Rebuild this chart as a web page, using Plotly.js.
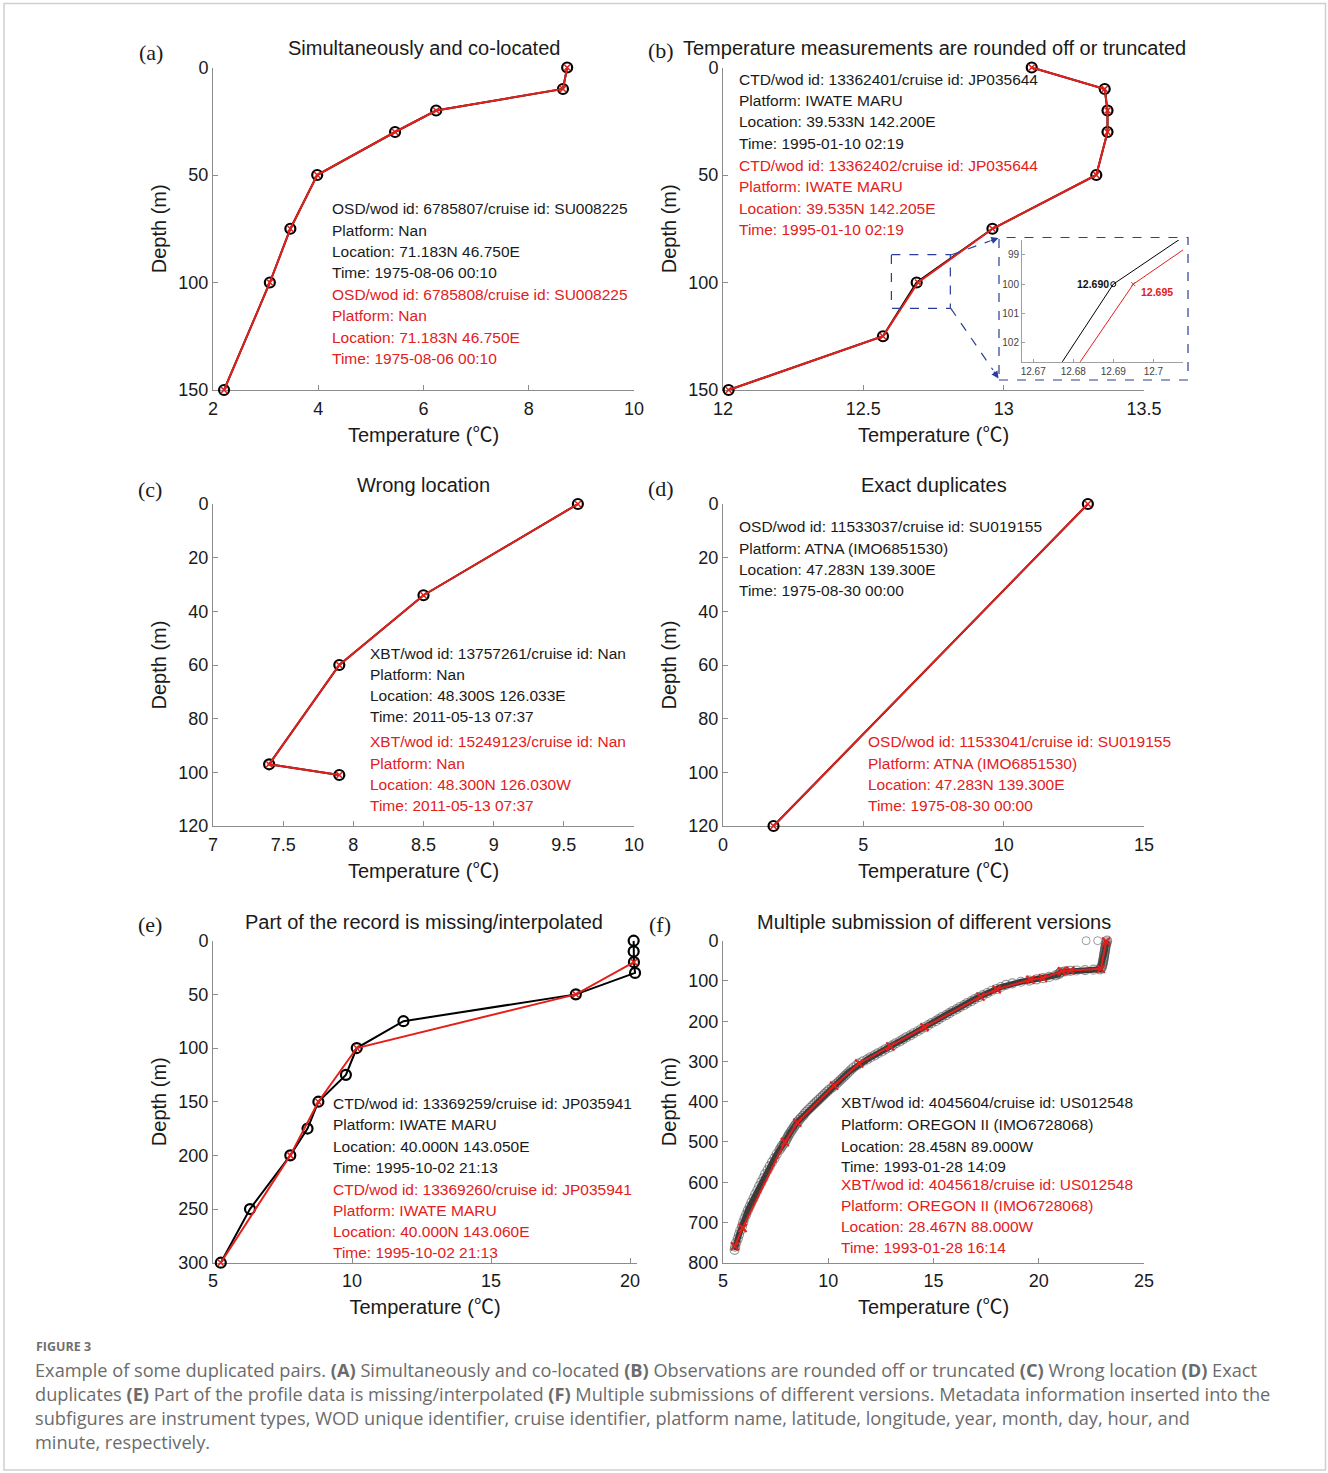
<!DOCTYPE html>
<html><head><meta charset="utf-8">
<script src="https://cdn.plot.ly/plotly-3.0.1.min.js"></script>
<style>html,body{margin:0;padding:0;background:#fff}</style>
</head><body><div id="chart" style="width:1328px;height:1473px"></div>
<script>
// ---------------- DATA ----------------
// (a) Simultaneously and co-located
const depthA = [0, 10, 20, 30, 50, 75, 100, 150];
const tempA_black = [8.73, 8.65, 6.24, 5.46, 3.98, 3.47, 3.08, 2.21];
const tempA_red   = [8.73, 8.65, 6.24, 5.46, 3.98, 3.47, 3.08, 2.21];
// (b) Rounded off or truncated
const depthB = [0, 10, 20, 30, 50, 75, 100, 125, 150];
const tempB_black = [13.10, 13.36, 13.37, 13.37, 13.33, 12.96, 12.690, 12.57, 12.02];
const tempB_red   = [13.10, 13.36, 13.37, 13.37, 13.33, 12.96, 12.695, 12.57, 12.02];
// (c) Wrong location
const depthC = [0, 34, 60, 97, 101];
const tempC_black = [9.60, 8.50, 7.90, 7.40, 7.90];
const tempC_red   = [9.60, 8.50, 7.90, 7.40, 7.90];
// (d) Exact duplicates
const depthD = [0, 120];
const tempD_black = [13.0, 1.8];
const tempD_red   = [13.0, 1.8];
// (e) Missing / interpolated
const depthE_black = [0, 10, 20, 30, 50, 75, 100, 125, 150, 175, 200, 250, 300];
const tempE_black  = [20.13, 20.13, 20.14, 20.18, 18.05, 11.85, 10.17, 9.78, 8.79, 8.40, 7.78, 6.33, 5.28];
const depthE_red = [20, 50, 100, 150, 200, 300];
const tempE_red  = [20.14, 18.05, 10.17, 8.79, 7.78, 5.28];
// (f) Multiple submissions
const depthF_blackSurface = [0, 0];
const tempF_blackSurface  = [22.25, 22.8];
const depthF_black = [
 0,4,8,12,16,20,24,28,32,36,40,44,48,52,56,60,64,68,71,
 72,73,74,75,76,78,80,83,86,90,93,96,99,102,106,110,115,120,
 125,130,135,140,145,150,155,160,165,170,175,180,185,190,195,200,205,210,215,220,225,230,235,240,245,250,
 255,260,265,270,275,280,285,290,295,300,305,310,315,320,325,330,335,340,345,350,355,360,365,370,375,380,
 385,390,395,400,405,410,415,420,425,430,435,440,445,450,455,460,465,470,475,480,485,490,495,500,
 505,510,515,520,
 530,540,550,560,570,580,590,600,610,620,630,640,650,660,670,680,690,700,710,720,730,740,750,760,768];
const tempF_black = [
 23.25,23.22,23.2,23.18,23.17,23.15,23.15,23.13,23.12,23.1,23.1,23.08,23.07,23.05,23.04,23.02,23.0,22.98,22.92,
 22.6,22.2,21.8,21.5,21.25,21.05,21.0,20.95,20.8,20.5,20.2,19.9,19.55,19.15,18.75,18.45,18.2,18.0,
 17.75,17.55,17.35,17.15,16.95,16.8,16.6,16.45,16.25,16.1,15.9,15.75,15.6,15.4,15.25,15.1,14.9,14.75,14.57,14.4,14.25,14.05,13.9,13.7,13.55,13.4,
 13.2,13.05,12.9,12.7,12.55,12.35,12.2,12.0,11.85,11.65,11.47,11.35,11.2,11.1,11.0,10.9,10.8,10.7,10.6,10.5,10.4,10.28,10.18,10.05,9.95,9.85,
 9.75,9.65,9.55,9.45,9.35,9.25,9.15,9.05,8.95,8.87,8.8,8.7,8.62,8.55,8.48,8.4,8.35,8.28,8.22,8.15,8.1,8.05,8.0,7.94,
 7.88,7.8,7.74,7.68,
 7.55,7.45,7.33,7.22,7.12,7.0,6.92,6.82,6.72,6.63,6.53,6.45,6.35,6.27,6.18,6.1,6.02,5.96,5.9,5.82,5.76,5.7,5.63,5.58,5.55];
const depthF_red = [2, 70, 74, 76, 93, 97, 121, 139, 215, 263, 305, 360, 452, 500, 714, 759];
const tempF_red  = [23.2, 22.95, 21.5, 21.1, 20.2, 19.6, 18.0, 17.23, 14.57, 12.95, 11.47, 10.28, 8.53, 7.94, 5.93, 5.56];

// Titles and metadata text
const panelTitles = ['Simultaneously and co-located', 'Temperature measurements are rounded off or truncated',
  'Wrong location', 'Exact duplicates', 'Part of the record is missing/interpolated', 'Multiple submission of different versions'];
const panelLetters = ['(a)', '(b)', '(c)', '(d)', '(e)', '(f)'];
const metaA_black = ['OSD/wod id: 6785807/cruise id: SU008225', 'Platform: Nan', 'Location: 71.183N 46.750E', 'Time: 1975-08-06 00:10'];
const metaA_red   = ['OSD/wod id: 6785808/cruise id: SU008225', 'Platform: Nan', 'Location: 71.183N 46.750E', 'Time: 1975-08-06 00:10'];
const metaB_black = ['CTD/wod id: 13362401/cruise id: JP035644', 'Platform: IWATE MARU', 'Location: 39.533N 142.200E', 'Time: 1995-01-10 02:19'];
const metaB_red   = ['CTD/wod id: 13362402/cruise id: JP035644', 'Platform: IWATE MARU', 'Location: 39.535N 142.205E', 'Time: 1995-01-10 02:19'];
const metaC_black = ['XBT/wod id: 13757261/cruise id: Nan', 'Platform: Nan', 'Location: 48.300S 126.033E', 'Time: 2011-05-13 07:37'];
const metaC_red   = ['XBT/wod id: 15249123/cruise id: Nan', 'Platform: Nan', 'Location: 48.300N 126.030W', 'Time: 2011-05-13 07:37'];
const metaD_black = ['OSD/wod id: 11533037/cruise id: SU019155', 'Platform: ATNA (IMO6851530)', 'Location: 47.283N 139.300E', 'Time: 1975-08-30 00:00'];
const metaD_red   = ['OSD/wod id: 11533041/cruise id: SU019155', 'Platform: ATNA (IMO6851530)', 'Location: 47.283N 139.300E', 'Time: 1975-08-30 00:00'];
const metaE_black = ['CTD/wod id: 13369259/cruise id: JP035941', 'Platform: IWATE MARU', 'Location: 40.000N 143.050E', 'Time: 1995-10-02 21:13'];
const metaE_red   = ['CTD/wod id: 13369260/cruise id: JP035941', 'Platform: IWATE MARU', 'Location: 40.000N 143.060E', 'Time: 1995-10-02 21:13'];
const metaF_black = ['XBT/wod id: 4045604/cruise id: US012548', 'Platform: OREGON II (IMO6728068)', 'Location: 28.458N 89.000W', 'Time: 1993-01-28 14:09'];
const metaF_red   = ['XBT/wod id: 4045618/cruise id: US012548', 'Platform: OREGON II (IMO6728068)', 'Location: 28.467N 88.000W', 'Time: 1993-01-28 16:14'];
const insetLabels = ['12.690', '12.695'];
const captionHead = 'FIGURE 3';
const captionLines = [
 'Example of some duplicated pairs. <b>(A)</b> Simultaneously and co-located <b>(B)</b> Observations are rounded off or truncated <b>(C)</b> Wrong location <b>(D)</b> Exact',
 'duplicates <b>(E)</b> Part of the profile data is missing/interpolated <b>(F)</b> Multiple submissions of different versions. Metadata information inserted into the',
 'subfigures are instrument types, WOD unique identifier, cruise identifier, platform name, latitude, longitude, year, month, day, hour, and',
 'minute, respectively.'];

// ---------------- LAYOUT HELPERS ----------------
const W = 1328, H = 1473;
const px = x => x / W;
const py = y => 1 - y / H;
const RED = '#e3201b';
const AXC = '#8c8c8c';
const TXT = '#1a1a1a';
const FONT = '"Liberation Sans", Arial, Helvetica, sans-serif';
const SERIF = '"Liberation Serif", "Times New Roman", serif';
const BLUE = '#2b3d98';
const XTITLE = 'Temperature (<span style="font-family:Noto Sans CJK SC">℃</span>)';

const cols = [[213, 634], [723, 1144]];
const rows = [[67.5, 390], [504, 826], [940.7, 1262.7]];

const layout = {
  width: W, height: H, margin: {l: 0, r: 0, t: 0, b: 0},
  paper_bgcolor: '#fff', plot_bgcolor: 'rgba(0,0,0,0)', showlegend: false,
  font: {family: FONT, color: TXT}, annotations: [], shapes: []
};

function addAxes(idx, col, row, xrange, xtickvals, xticktext, yrange, ytickvals, xRight) {
  const xn = idx === 1 ? 'xaxis' : 'xaxis' + idx;
  const yn = idx === 1 ? 'yaxis' : 'yaxis' + idx;
  const xa = idx === 1 ? 'x' : 'x' + idx;
  const ya = idx === 1 ? 'y' : 'y' + idx;
  const c = cols[col], r = rows[row];
  const common = {showline: true, linecolor: AXC, linewidth: 1, ticks: 'inside', ticklen: 5,
    tickcolor: AXC, tickwidth: 1, showgrid: false, zeroline: false, layer: 'below traces',
    fixedrange: true, tickfont: {family: FONT, size: 18, color: TXT}};
  layout[xn] = Object.assign({}, common, {domain: [px(c[0]), px(xRight || c[1])], anchor: ya, range: xrange,
    tickmode: 'array', tickvals: xtickvals, ticktext: xticktext, ticklabelstandoff: 2,
    title: {text: XTITLE, font: {family: FONT, size: 20, color: TXT}, standoff: 6}});
  layout[yn] = Object.assign({}, common, {domain: [py(r[1]), py(r[0])], anchor: xa, range: yrange,
    tickmode: 'array', tickvals: ytickvals,
    title: {text: 'Depth (m)', font: {family: FONT, size: 20, color: TXT}, standoff: 6}});
}

addAxes(1, 0, 0, [2, 10], [2, 4, 6, 8, 10], ['2', '4', '6', '8', '10'], [150, 0], [0, 50, 100, 150]);
addAxes(2, 1, 0, [12, 13.5], [12, 12.5, 13, 13.5], ['12', '12.5', '13', '13.5'], [150, 0], [0, 50, 100, 150]);
addAxes(3, 0, 1, [7, 10], [7, 7.5, 8, 8.5, 9, 9.5, 10], ['7', '7.5', '8', '8.5', '9', '9.5', '10'], [120, 0], [0, 20, 40, 60, 80, 100, 120]);
addAxes(4, 1, 1, [0, 15], [0, 5, 10, 15], ['0', '5', '10', '15'], [120, 0], [0, 20, 40, 60, 80, 100, 120]);
addAxes(5, 0, 2, [5, 20.25], [5, 10, 15, 20], ['5', '10', '15', '20'], [300, 0], [0, 50, 100, 150, 200, 250, 300], 637);
addAxes(6, 1, 2, [5, 25], [5, 10, 15, 20, 25], ['5', '10', '15', '20', '25'], [800, 0], [0, 100, 200, 300, 400, 500, 600, 700, 800]);

// inset axes for (b)
layout.xaxis7 = {domain: [px(1022), px(1183)], anchor: 'y7', range: [12.6672, 12.7074],
  tickmode: 'array', tickvals: [12.67, 12.68, 12.69, 12.7], ticktext: ['12.67', '12.68', '12.69', '12.7'],
  showline: true, linecolor: '#a0a0a0', linewidth: 1, ticks: 'inside', ticklen: 3, tickcolor: '#a0a0a0',
  showgrid: false, zeroline: false, fixedrange: true, tickfont: {family: FONT, size: 10, color: '#444'}};
layout.yaxis7 = {domain: [py(361.7), py(240)], anchor: 'x7', range: [102.65, 98.49],
  tickmode: 'array', tickvals: [99, 100, 101, 102],
  showline: true, linecolor: '#a0a0a0', linewidth: 1, ticks: 'inside', ticklen: 3, tickcolor: '#a0a0a0',
  showgrid: false, zeroline: false, fixedrange: true, tickfont: {family: FONT, size: 10, color: '#444'}};

// ---------------- TRACES ----------------
const traces = [];
function pair(idx, tb, db, tr, dr) {
  const xa = idx === 1 ? 'x' : 'x' + idx, ya = idx === 1 ? 'y' : 'y' + idx;
  traces.push({x: tb, y: db, xaxis: xa, yaxis: ya, type: 'scatter', mode: 'lines+markers', cliponaxis: false,
    hoverinfo: 'skip', line: {color: '#000', width: 2},
    marker: {symbol: 'circle-open', size: 10, color: '#000', line: {width: 2.2, color: '#000'}}});
  traces.push({x: tr, y: dr, xaxis: xa, yaxis: ya, type: 'scatter', mode: 'lines+markers', cliponaxis: false,
    hoverinfo: 'skip', line: {color: RED, width: 2},
    marker: {symbol: 'x-thin-open', size: 6, color: RED, line: {width: 1.6, color: RED}}});
}
pair(1, tempA_black, depthA, tempA_red, depthA);
pair(2, tempB_black, depthB, tempB_red, depthB);
pair(3, tempC_black, depthC, tempC_red, depthC);
pair(4, tempD_black, depthD, tempD_red, depthD);
pair(5, tempE_black, depthE_black, tempE_red, depthE_red);
// (f) dense black profile: thick dark core + gray ring fringe
traces.push({x: tempF_black, y: depthF_black, xaxis: 'x6', yaxis: 'y6', type: 'scatter', mode: 'lines+markers',
  cliponaxis: false, hoverinfo: 'skip', line: {color: 'rgba(35,35,35,0.9)', width: 6},
  marker: {symbol: 'circle-open', size: 9, color: 'rgba(70,70,70,0.55)', line: {width: 1.2, color: 'rgba(70,70,70,0.55)'}}});
traces.push({x: tempF_blackSurface, y: depthF_blackSurface, xaxis: 'x6', yaxis: 'y6', type: 'scatter', mode: 'markers',
  cliponaxis: false, hoverinfo: 'skip',
  marker: {symbol: 'circle-open', size: 8, color: 'rgba(90,90,90,0.6)', line: {width: 1, color: 'rgba(90,90,90,0.6)'}}});
traces.push({x: tempF_red, y: depthF_red, xaxis: 'x6', yaxis: 'y6', type: 'scatter', mode: 'lines+markers',
  cliponaxis: false, hoverinfo: 'skip', line: {color: RED, width: 2},
  marker: {symbol: 'x-thin-open', size: 8, color: RED, line: {width: 2, color: RED}}});
// inset (b)
traces.push({x: tempB_black, y: depthB, xaxis: 'x7', yaxis: 'y7', type: 'scatter', mode: 'lines+markers',
  hoverinfo: 'skip', line: {color: '#000', width: 1},
  marker: {symbol: 'circle-open', size: 5, color: '#000', line: {width: 1, color: '#000'}}});
traces.push({x: tempB_red, y: depthB, xaxis: 'x7', yaxis: 'y7', type: 'scatter', mode: 'lines+markers',
  hoverinfo: 'skip', line: {color: RED, width: 1},
  marker: {symbol: 'x-thin-open', size: 4, color: RED, line: {width: 1, color: RED}}});

// ---------------- ANNOTATIONS ----------------
function ann(text, x, y, o) {
  layout.annotations.push(Object.assign({text: text, x: px(x), y: py(y), xref: 'paper', yref: 'paper',
    showarrow: false, xanchor: 'left', yanchor: 'middle', align: 'left',
    font: {family: FONT, size: 15.5, color: TXT}}, o || {}));
}
function block(lines, x, ys, color) {
  lines.forEach((t, i) => ann(t, x, ys[i], {font: {family: FONT, size: 15.5, color: color}}));
}
// panel titles
const titlePos = [[423.5, 48.3], [934, 48.3], [423.5, 485], [934, 485], [423.5, 921.7], [934, 921.7]];
panelTitles.forEach((t, i) => ann(t, titlePos[i][0], titlePos[i][1], {xanchor: 'center', font: {family: FONT, size: 20, color: TXT}}));
const letterPos = [[150.5, 52], [660.5, 51], [150, 489], [660.5, 488.5], [150, 924], [660, 924]];
panelLetters.forEach((t, i) => ann(t, letterPos[i][0], letterPos[i][1], {xanchor: 'center', font: {family: SERIF, size: 22, color: TXT}}));
// metadata
block(metaA_black, 329.5, [208.5, 230, 251.5, 272.5], TXT);
block(metaA_red, 329.5, [294.3, 315.8, 337, 358.3], RED);
block(metaB_black, 736.5, [79.3, 100.7, 121.8, 143.3], TXT);
block(metaB_red, 736.5, [165, 186.7, 208.3, 229.3], RED);
block(metaC_black, 367.5, [653.3, 674.5, 696, 716.7], TXT);
block(metaC_red, 367.5, [741.7, 763.3, 784.3, 805.3], RED);
block(metaD_black, 736.5, [526.7, 548.3, 569.3, 590.7], TXT);
block(metaD_red, 866, [741.7, 763.3, 784.3, 805.3], RED);
block(metaE_black, 331.2, [1103.3, 1124.5, 1146, 1167.3], TXT);
block(metaE_red, 331.2, [1189, 1210, 1231.7, 1252.7], RED);
block(metaF_black, 838.5, [1102.7, 1124.5, 1146, 1166.7], TXT);
block(metaF_red, 838.5, [1184, 1205, 1226.7, 1247.7], RED);
// inset labels
ann('<b>' + insetLabels[0] + '</b>', 1110.5, 283.5, {xanchor: 'right', font: {family: FONT, size: 10.5, color: '#111'}});
ann('<b>' + insetLabels[1] + '</b>', 1139, 291.7, {font: {family: FONT, size: 10.5, color: RED}});
// arrowheads of the zoom connectors
function arrowHead(x, y, ax, ay) {
  layout.annotations.push({x: px(x), y: py(y), xref: 'paper', yref: 'paper', text: '', showarrow: true,
    ax: ax, ay: ay, arrowhead: 2, arrowsize: 1.2, arrowwidth: 1.2, arrowcolor: BLUE, standoff: 0, startstandoff: 0});
}
arrowHead(998.5, 238, -9.4, 3.4);
arrowHead(998.5, 378.5, -5.6, -8.3);
// caption
ann('<b>' + captionHead + '</b>', 34, 1346, {font: {family: '"Open Sans", sans-serif', size: 12.5, color: '#707070'}});
const capY = [1369.5, 1393.5, 1417.8, 1441.8];
captionLines.forEach((t, i) => ann(t, 33, capY[i], {font: {family: '"Open Sans", sans-serif', size: 18.2, color: '#6b6b6b'}}));

// ---------------- SHAPES ----------------
layout.shapes.push({type: 'rect', xref: 'paper', yref: 'paper', x0: px(4), x1: px(1325.5), y0: py(1470), y1: py(3.5),
  line: {color: '#cfcfcf', width: 1.5}, fillcolor: 'rgba(0,0,0,0)'});
// zoom box in (b)
layout.shapes.push({type: 'rect', xref: 'x2', yref: 'y2', x0: 12.6, x1: 12.81, y0: 87, y1: 112,
  line: {color: BLUE, width: 1.2, dash: 'dash'}, fillcolor: 'rgba(0,0,0,0)'});
// inset frame
layout.shapes.push({type: 'rect', xref: 'paper', yref: 'paper', x0: px(999), x1: px(1188), y0: py(380), y1: py(237.5),
  line: {color: BLUE, width: 1.2, dash: 'dash'}, fillcolor: 'rgba(0,0,0,0)'});
// connectors
layout.shapes.push({type: 'line', xref: 'paper', yref: 'paper', x0: px(950.8), y0: py(255), x1: px(990), y1: py(241),
  line: {color: BLUE, width: 1.2, dash: 'dash'}});
layout.shapes.push({type: 'line', xref: 'paper', yref: 'paper', x0: px(950.8), y0: py(308.3), x1: px(993), y1: py(370),
  line: {color: BLUE, width: 1.2, dash: 'dash'}});

Plotly.newPlot('chart', traces, layout, {staticPlot: true, displayModeBar: false});
</script>
</body></html>
